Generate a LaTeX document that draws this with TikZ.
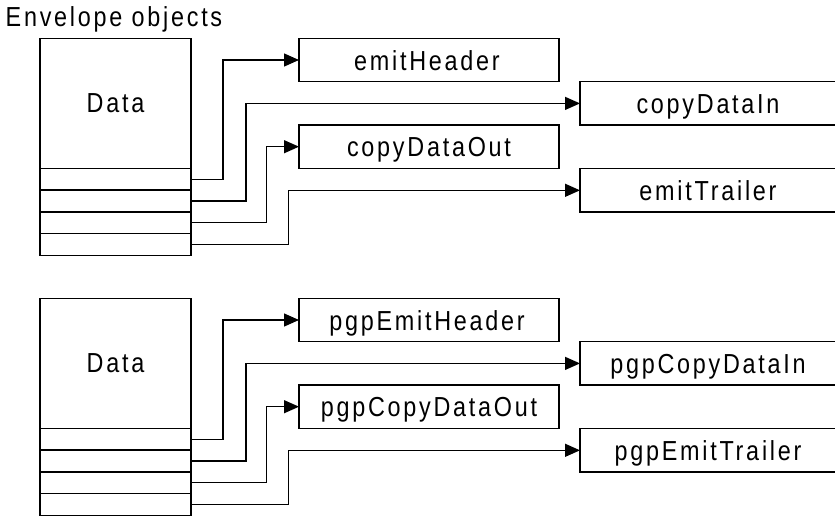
\documentclass[tikz,border=0pt]{standalone}
\usepackage{fontspec}
\setmainfont{Liberation Sans}[FakeStretch=0.85, LetterSpace=10]
\usetikzlibrary{arrows.meta}
\tikzset{
  lw/.style={line width=1.3pt},
  part/.style={draw, lw, rectangle, inner sep=0pt, outer sep=0pt, minimum width=151pt},
  method/.style={draw, lw, rectangle, inner sep=0pt, outer sep=0pt, minimum height=43.4pt},
  conn/.style={lw, -{Triangle[length=15pt,width=13pt]}},
  lbl/.style={font=\fontsize{27.5}{30}\selectfont, inner sep=0pt}
}
\begin{document}
\begin{tikzpicture}[x=1pt,y=-1pt]
\useasboundingbox (0,0) rectangle (835,517);
\node[lbl, anchor=base west] (title) at (5.5,26) {Envelope objects};
% ---- top group ----
\node[part, minimum height=130pt] (d1) at (115.5,103.3) {};
\node[lbl, anchor=base] (d1t) at (115.5,112.5) {Data};
\node[part, minimum height=21.8pt] (a1) at (115.5,179.2) {};
\node[part, minimum height=21.8pt] (a2) at (115.5,201.0) {};
\node[part, minimum height=21.8pt] (a3) at (115.5,222.8) {};
\node[part, minimum height=21.8pt] (a4) at (115.5,244.6) {};
\node[method, minimum width=260pt] (eh) at (429,60) {};
\node[lbl, anchor=base] (eht) at (427,70) {emitHeader};
\node[method, minimum width=270pt] (ci) at (715,103.4) {};
\node[lbl, anchor=base] (cit) at (708,113.4) {copyDataIn};
\node[method, minimum width=260pt] (co) at (429,146.7) {};
\node[lbl, anchor=base] (cot) at (429,156.7) {copyDataOut};
\node[method, minimum width=270pt] (et) at (715,190.3) {};
\node[lbl, anchor=base] (ett) at (708,200.3) {emitTrailer};
\draw[conn] (a1.east) -| ([xshift=-76pt]eh.west) -- (eh.west);
\draw[conn] (a2.east) -| ([xshift=-334pt]ci.west) -- (ci.west);
\draw[conn] (a3.east) -| ([xshift=-32.5pt]co.west) -- (co.west);
\draw[conn] (a4.east) -| ([xshift=-291.7pt]et.west) -- (et.west);
% ---- bottom group ----
\node[part, minimum height=130pt] (d2) at (115.5,363.3) {};
\node[lbl, anchor=base] (d2t) at (115.5,372.5) {Data};
\node[part, minimum height=21.8pt] (b1) at (115.5,439.2) {};
\node[part, minimum height=21.8pt] (b2) at (115.5,461.0) {};
\node[part, minimum height=21.8pt] (b3) at (115.5,482.8) {};
\node[part, minimum height=21.8pt] (b4) at (115.5,504.6) {};
\node[method, minimum width=260pt] (peh) at (429,320) {};
\node[lbl, anchor=base] (peht) at (427,330) {pgpEmitHeader};
\node[method, minimum width=270pt] (pci) at (715,363.4) {};
\node[lbl, anchor=base] (pcit) at (708,373.4) {pgpCopyDataIn};
\node[method, minimum width=260pt] (pco) at (429,406.7) {};
\node[lbl, anchor=base] (pcot) at (429,416.7) {pgpCopyDataOut};
\node[method, minimum width=270pt] (pet) at (715,450.3) {};
\node[lbl, anchor=base] (pett) at (708,460.3) {pgpEmitTrailer};
\draw[conn] (b1.east) -| ([xshift=-76pt]peh.west) -- (peh.west);
\draw[conn] (b2.east) -| ([xshift=-334pt]pci.west) -- (pci.west);
\draw[conn] (b3.east) -| ([xshift=-32.5pt]pco.west) -- (pco.west);
\draw[conn] (b4.east) -| ([xshift=-291.7pt]pet.west) -- (pet.west);
\end{tikzpicture}
\end{document}
